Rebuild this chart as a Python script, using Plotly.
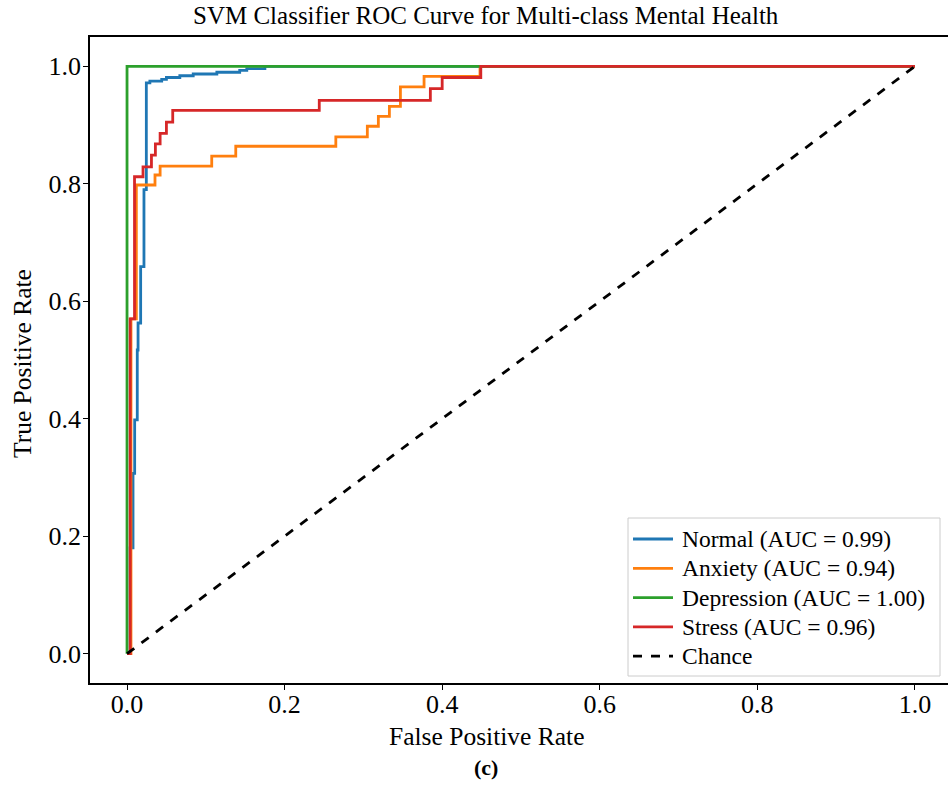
import plotly.graph_objects as go

# ROC corner points (fpr, tpr) per class, drawn as horizontal-then-vertical steps
normal_fpr = [0.0, 0.004, 0.0076, 0.0097, 0.013, 0.014, 0.0173, 0.0215, 0.0245,
              0.029, 0.044, 0.050, 0.067, 0.084, 0.114, 0.143, 0.152, 0.175, 1.0]
normal_tpr = [0.0, 0.18, 0.307, 0.398, 0.517, 0.563, 0.659, 0.79, 0.972,
              0.975, 0.978, 0.981, 0.984, 0.987, 0.990, 0.993, 0.996, 1.0, 1.0]

anxiety_fpr = [0.0, 0.005, 0.0118, 0.0355, 0.042, 0.1075, 0.138, 0.265, 0.305,
               0.319, 0.333, 0.347, 0.377, 0.448, 1.0]
anxiety_tpr = [0.0, 0.57, 0.798, 0.815, 0.83, 0.847, 0.864, 0.88, 0.898,
               0.915, 0.932, 0.965, 0.983, 1.0, 1.0]

depression_fpr = [0.0, 0.0, 1.0]
depression_tpr = [0.0, 1.0, 1.0]

stress_fpr = [0.0, 0.004, 0.0095, 0.0203, 0.031, 0.036, 0.042, 0.050, 0.058,
              0.244, 0.385, 0.40, 0.449, 1.0]
stress_tpr = [0.0, 0.57, 0.812, 0.829, 0.849, 0.868, 0.886, 0.905, 0.925,
              0.942, 0.962, 0.981, 1.0, 1.0]

chance_x = [0.0, 1.0]
chance_y = [0.0, 1.0]

class_names = ["Normal", "Anxiety", "Depression", "Stress"]
auc_values = [0.99, 0.94, 1.00, 0.96]
class_colors = ["#1f77b4", "#ff7f0e", "#2ca02c", "#d62728"]
curves = [(normal_fpr, normal_tpr), (anxiety_fpr, anxiety_tpr),
          (depression_fpr, depression_tpr), (stress_fpr, stress_tpr)]

x_ticks = [0.0, 0.2, 0.4, 0.6, 0.8, 1.0]
y_ticks = [0.0, 0.2, 0.4, 0.6, 0.8, 1.0]

FONT = "Liberation Serif"
LINE_W = 2.8

# figure / plot-area geometry in pixels
W, H = 948, 788
M_L, M_R, M_T, M_B = 90, 0, 37, 105
PLOT_W = W - M_L - M_R
PLOT_H = H - M_T - M_B


def px(xp):
    return (xp - M_L) / PLOT_W


def py(yp):
    return (H - M_B - yp) / PLOT_H


fig = go.Figure()
legend_entries = []
for name, auc, color, (fx, ty) in zip(class_names, auc_values, class_colors, curves):
    label = f"{name} (AUC = {auc:.2f})"
    fig.add_trace(go.Scatter(
        x=fx, y=ty, mode="lines", line=dict(color=color, width=LINE_W, shape="hv"),
        name=label, showlegend=False))
    legend_entries.append((label, color, "solid"))

fig.add_trace(go.Scatter(
    x=chance_x, y=chance_y, mode="lines",
    line=dict(color="black", width=LINE_W, dash="dash"), name="Chance",
    showlegend=False))
legend_entries.append(("Chance", "black", "dash"))

axis_common = dict(
    showgrid=False, zeroline=False, showline=True, linecolor="black", linewidth=1.5,
    ticks="outside", ticklen=5, tickwidth=1.2, tickcolor="black",
    tickfont=dict(family=FONT, size=26, color="black"), tickformat=".1f",
)

# legend box drawn in the lower-right corner of the axes
shapes = [dict(type="rect", xref="paper", yref="paper",
               x0=px(628), x1=px(940), y0=py(676), y1=py(518),
               line=dict(color="#cccccc", width=1), fillcolor="white", layer="above")]
annotations = []
row_y0, row_dy = 539, 29.3
for i, (label, color, dash) in enumerate(legend_entries):
    yrow = row_y0 + i * row_dy
    shapes.append(dict(type="line", xref="paper", yref="paper",
                       x0=px(633), x1=px(673), y0=py(yrow), y1=py(yrow),
                       line=dict(color=color, width=LINE_W, dash=dash), layer="above"))
    annotations.append(dict(text=label, xref="paper", yref="paper",
                            x=px(680), y=py(yrow), xanchor="left", yanchor="middle",
                            showarrow=False,
                            font=dict(family=FONT, size=23.5, color="black")))

annotations += [
    dict(text="SVM Classifier ROC Curve for Multi-class Mental Health",
         xref="paper", yref="paper", x=px(486), y=py(15),
         xanchor="center", yanchor="middle", showarrow=False,
         font=dict(family=FONT, size=25, color="black")),
    dict(text="False Positive Rate", xref="paper", yref="paper",
         x=px(486), y=py(736), xanchor="center", yanchor="middle",
         showarrow=False, font=dict(family=FONT, size=25.5, color="black")),
    dict(text="True Positive Rate", xref="paper", yref="paper",
         x=px(22), y=py(364), textangle=-90,
         xanchor="center", yanchor="middle", showarrow=False,
         font=dict(family=FONT, size=25.5, color="black")),
    dict(text="<b>(c)</b>", xref="paper", yref="paper",
         x=px(486), y=py(767), xanchor="center", yanchor="middle",
         showarrow=False, font=dict(family=FONT, size=22, color="black")),
]

fig.update_layout(
    width=W, height=H,
    margin=dict(l=M_L, r=M_R, t=M_T, b=M_B),
    paper_bgcolor="white", plot_bgcolor="white",
    xaxis=dict(range=[-0.047, 1.042], tickvals=x_ticks, mirror=True,
               ticklabelstandoff=-8, **axis_common),
    yaxis=dict(range=[-0.05, 1.05], tickvals=y_ticks, ticklabelstandoff=-3,
               **axis_common),
    showlegend=False,
    shapes=shapes,
    annotations=annotations,
)

fig.write_html("out.html")
